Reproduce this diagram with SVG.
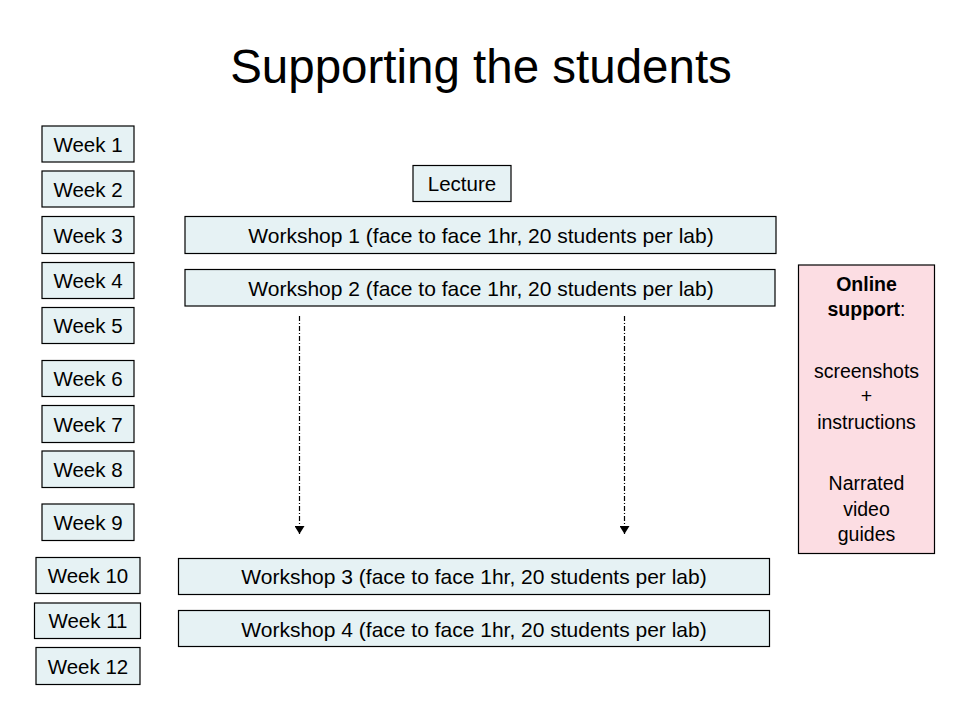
<svg xmlns="http://www.w3.org/2000/svg" width="960" height="720" viewBox="0 0 960 720">
<style>
.t{font-family:"Liberation Sans",Arial,sans-serif;fill:#000}
.wk rect{fill:#e6f2f4;stroke:#000;stroke-width:1.2}
.wk text{font-size:20.5px;text-anchor:middle}
.ws rect{fill:#e6f2f4;stroke:#000;stroke-width:1.2}
.ws text{font-size:21px;text-anchor:middle}
.os rect{fill:#fcdde3;stroke:#000;stroke-width:1.2}
.os text{font-size:19.5px;text-anchor:middle}
.conn line{stroke:#000;stroke-width:1.2;stroke-dasharray:5 2 1 2}
</style>
<defs>
<marker id="ah" viewBox="0 0 8 10" refX="8" refY="5" markerWidth="8" markerHeight="10" markerUnits="userSpaceOnUse" orient="auto">
<path d="M0,0 L8,5 L0,10 Z" fill="#000"/>
</marker>
</defs>
<rect width="960" height="720" fill="#fff"/>
<text class="t" x="481" y="83" font-size="47.5" text-anchor="middle">Supporting the students</text>

<g id="week1" class="wk"><rect x="42" y="126" width="92" height="36"/><text class="t" x="88" y="152">Week 1</text></g>
<g id="week2" class="wk"><rect x="42" y="171" width="92" height="36"/><text class="t" x="88" y="197">Week 2</text></g>
<g id="week3" class="wk"><rect x="42" y="216.5" width="92" height="37"/><text class="t" x="88" y="243">Week 3</text></g>
<g id="week4" class="wk"><rect x="42" y="262.5" width="92" height="36"/><text class="t" x="88" y="288">Week 4</text></g>
<g id="week5" class="wk"><rect x="42" y="307.5" width="92" height="36"/><text class="t" x="88" y="333">Week 5</text></g>
<g id="week6" class="wk"><rect x="42" y="360.5" width="92" height="36"/><text class="t" x="88" y="386">Week 6</text></g>
<g id="week7" class="wk"><rect x="42" y="405.5" width="92" height="37"/><text class="t" x="88" y="432">Week 7</text></g>
<g id="week8" class="wk"><rect x="42" y="451" width="92" height="36.5"/><text class="t" x="88" y="477">Week 8</text></g>
<g id="week9" class="wk"><rect x="42" y="504" width="92" height="36.5"/><text class="t" x="88" y="530">Week 9</text></g>
<g id="week10" class="wk"><rect x="36" y="557.5" width="104" height="36"/><text class="t" x="88" y="583">Week 10</text></g>
<g id="week11" class="wk"><rect x="34.5" y="603" width="106" height="35.5"/><text class="t" x="88" y="628">Week 11</text></g>
<g id="week12" class="wk"><rect x="36" y="647.5" width="104" height="37"/><text class="t" x="88" y="674">Week 12</text></g>

<g id="lecture" class="ws"><rect x="413" y="165.5" width="98" height="36"/><text class="t" x="462" y="191" style="font-size:20.5px">Lecture</text></g>
<g id="workshop1" class="ws"><rect x="185" y="216.5" width="591" height="37"/><text class="t" x="481" y="243">Workshop 1 (face to face 1hr, 20 students per lab)</text></g>
<g id="workshop2" class="ws"><rect x="185" y="269.5" width="590" height="36.5"/><text class="t" x="481" y="296">Workshop 2 (face to face 1hr, 20 students per lab)</text></g>
<g id="workshop3" class="ws"><rect x="178.5" y="558.5" width="591" height="36"/><text class="t" x="474" y="584">Workshop 3 (face to face 1hr, 20 students per lab)</text></g>
<g id="workshop4" class="ws"><rect x="178.5" y="610.5" width="591" height="36"/><text class="t" x="474" y="637">Workshop 4 (face to face 1hr, 20 students per lab)</text></g>

<g id="online" class="os"><rect x="798.5" y="265" width="136" height="288.5"/>
<text class="t" x="866.5" y="291"><tspan font-weight="bold">Online</tspan></text>
<text class="t" x="866.5" y="316"><tspan font-weight="bold">support</tspan>:</text>
<text class="t" x="866.5" y="378">screenshots</text>
<text class="t" x="866.5" y="403">+</text>
<text class="t" x="866.5" y="429">instructions</text>
<text class="t" x="866.5" y="490">Narrated</text>
<text class="t" x="866.5" y="516">video</text>
<text class="t" x="866.5" y="541">guides</text>
</g>

<g id="connectors" class="conn">
<line x1="299.5" y1="316" x2="299.5" y2="534" marker-end="url(#ah)"/>
<line x1="624.5" y1="316" x2="624.5" y2="534" marker-end="url(#ah)"/>
</g>
</svg>
